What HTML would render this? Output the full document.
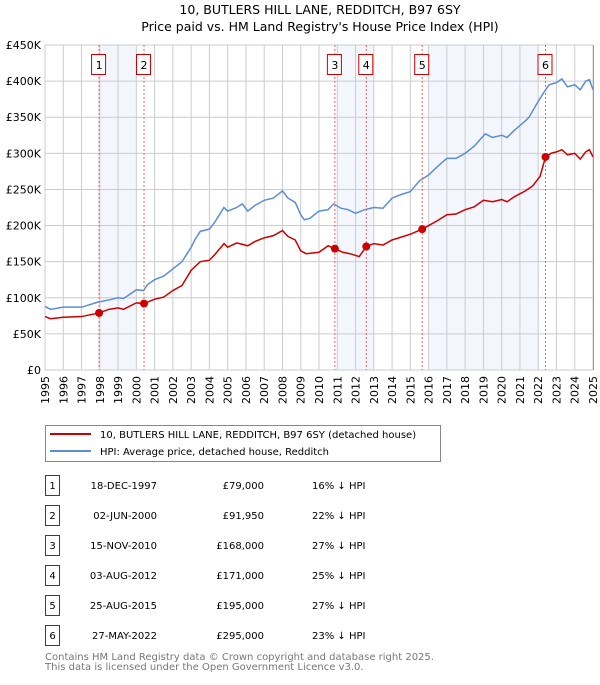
<!DOCTYPE html>
<html><head><meta charset="utf-8"><style>
body{margin:0;background:#fff;}
svg text{font-family:"DejaVu Sans","Liberation Sans",sans-serif;}
</style></head><body>
<svg id="chart" width="600" height="680" xmlns="http://www.w3.org/2000/svg">
<text x="320" y="14" text-anchor="middle" font-size="12.5">10, BUTLERS HILL LANE, REDDITCH, B97 6SY</text>
<text x="320" y="31" text-anchor="middle" font-size="12.5">Price paid vs. HM Land Registry's House Price Index (HPI)</text>
<g id="bands"></g><g id="grid"></g><g id="axes"></g><g id="series"></g><g id="marks"></g>
<line x1="593.5" y1="45" x2="593.5" y2="370" stroke="#999" stroke-width="1"/>
<g>
<rect x="45.5" y="425.5" width="395" height="36" fill="#fff" stroke="#888"/>
<line x1="50" y1="434" x2="91" y2="434" stroke="#cc0000" stroke-width="2"/>
<text x="100" y="438" font-size="10">10, BUTLERS HILL LANE, REDDITCH, B97 6SY (detached house)</text>
<line x1="50" y1="451" x2="91" y2="451" stroke="#5b8ed6" stroke-width="2"/>
<text x="100" y="455" font-size="10">HPI: Average price, detached house, Redditch</text>
</g>
<g id="table"></g>
<text x="45" y="660" font-size="10" fill="#777">Contains HM Land Registry data © Crown copyright and database right 2025.</text>
<text x="45" y="670" font-size="10" fill="#777">This data is licensed under the Open Government Licence v3.0.</text>
</svg>
<script>
const yearTicks=[1995,1996,1997,1998,1999,2000,2001,2002,2003,2004,2005,2006,2007,2008,2009,2010,2011,2012,2013,2014,2015,2016,2017,2018,2019,2020,2021,2022,2023,2024,2025];
const priceTicks=[0,50,100,150,200,250,300,350,400,450];
const priceLabels=["£0","£50K","£100K","£150K","£200K","£250K","£300K","£350K","£400K","£450K"];
const hpiDates=[1995,1995.3,1996,1997,1997.9,1998.5,1999,1999.3,2000,2000.4,2000.6,2001,2001.5,2002,2002.5,2003,2003.2,2003.5,2004,2004.3,2004.8,2005,2005.5,2005.8,2006.1,2006.5,2007,2007.5,2008,2008.3,2008.7,2009,2009.2,2009.5,2010,2010.5,2010.8,2011.2,2011.6,2012,2012.5,2013,2013.5,2014,2014.5,2015,2015.5,2016,2016.5,2017,2017.5,2018,2018.5,2019.1,2019.5,2020,2020.3,2020.7,2021.3,2021.5,2022,2022.3,2022.6,2023,2023.3,2023.6,2024,2024.3,2024.6,2024.8,2025];
const hpiValues=[88,84,87,87,94,97,100,99,111,110,118,125,130,140,150,170,180,192,195,205,225,220,225,230,220,228,235,238,248,238,232,215,208,210,220,222,230,224,222,217,222,225,224,238,243,247,262,270,282,293,293,300,310,327,322,325,322,332,345,350,372,384,395,398,403,392,395,388,400,402,388];
const ppDates=[1995,1995.3,1996,1997,1997.96,1998.5,1999,1999.3,2000,2000.42,2001,2001.5,2002,2002.5,2003,2003.5,2004,2004.3,2004.8,2005,2005.5,2006.1,2006.5,2007,2007.5,2008,2008.3,2008.7,2009,2009.3,2010,2010.5,2010.87,2011.3,2011.7,2012.2,2012.59,2013,2013.5,2014,2014.5,2015,2015.65,2016,2016.5,2017,2017.5,2018,2018.5,2019,2019.5,2020,2020.3,2020.7,2021.3,2021.7,2022.1,2022.4,2022.7,2023,2023.3,2023.6,2024,2024.3,2024.6,2024.8,2025];
const ppValues=[74,71,73,74,79,84,86,84,93,92,98,101,110,117,138,150,152,160,175,170,176,172,178,183,186,193,185,180,165,161,163,172,168,163,161,157,171,175,173,180,184,188,195,200,207,215,216,222,226,235,233,236,233,240,248,255,268,295,300,302,305,298,300,292,302,305,295];
const saleDates=[1997.96,2000.42,2010.87,2012.59,2015.65,2022.4];
const salePrices=[79,91.95,168,171,195,295];
const saleLabels=["1","2","3","4","5","6"];
const saleDateText=["18-DEC-1997","02-JUN-2000","15-NOV-2010","03-AUG-2012","25-AUG-2015","27-MAY-2022"];
const salePriceText=["£79,000","£91,950","£168,000","£171,000","£195,000","£295,000"];
const saleHpiText=["16% ↓ HPI","22% ↓ HPI","27% ↓ HPI","25% ↓ HPI","27% ↓ HPI","23% ↓ HPI"];
const bandStarts=[1998,2011,2016];
const bandEnds=[2000,2013,2022];

const NS="http://www.w3.org/2000/svg";
const X0=45,X1=593,Y0=370,Y1=45;
const xs=d=>X0+(d-1995)/30*(X1-X0);
const ys=v=>Y0-v/450*(Y0-Y1);
function mk(p,t,a){const e=document.createElementNS(NS,t);for(const k in a)e.setAttribute(k,a[k]);p.appendChild(e);return e;}
const bands=document.getElementById('bands'),grid=document.getElementById('grid'),axes=document.getElementById('axes'),series=document.getElementById('series'),marks=document.getElementById('marks'),table=document.getElementById('table');
bandStarts.forEach((s,i)=>{const r=mk(bands,'rect',{x:xs(s),y:Y1,width:xs(bandEnds[i])-xs(s),height:Y0-Y1,fill:'#f3f6fd'});

});
yearTicks.forEach(y=>{const l=mk(grid,'line',{x1:xs(y),x2:xs(y),y1:Y1,y2:Y0,stroke:'#ccc','stroke-width':1});


const t=mk(axes,'text',{x:0,y:0,'font-size':11,'text-anchor':'end',transform:`translate(${xs(y)+4},${Y0+6}) rotate(-90)`});t.textContent=y;

});
priceTicks.forEach((v,i)=>{const l=mk(grid,'line',{x1:X0,x2:X1,y1:ys(v),y2:ys(v),stroke:'#ccc','stroke-width':1});


const t=mk(axes,'text',{x:X0-4,y:ys(v)+4,'font-size':11,'text-anchor':'end'});t.textContent=priceLabels[i];

});
const hp=mk(series,'polyline',{points:hpiDates.map((d,i)=>xs(d)+','+ys(hpiValues[i])).join(' '),fill:'none',stroke:'#5b8ed6','stroke-width':1.5});


const pp=mk(series,'polyline',{points:ppDates.map((d,i)=>xs(d)+','+ys(ppValues[i])).join(' '),fill:'none',stroke:'#cc0000','stroke-width':1.5});


saleDates.forEach((d,i)=>{const x=xs(d);
const l=mk(marks,'line',{x1:x,x2:x,y1:Y1,y2:Y0,stroke:'#f06060','stroke-width':1,'stroke-dasharray':'2,2'});


const c=mk(marks,'circle',{cx:x,cy:ys(salePrices[i]),r:4,fill:'#cc0000'});


const g=mk(marks,'g',{});


mk(g,'rect',{x:x-7.5,y:54.5,width:14,height:20,fill:'#fff',stroke:'#cc0000'});
const t=mk(g,'text',{x:x,y:69,'font-size':11,'text-anchor':'middle'});t.textContent=saleLabels[i];
const ry=475+i*30;
const row=mk(table,'g',{});


mk(row,'rect',{x:45.5,y:ry+0.5,width:14,height:20,fill:'#fff',stroke:'#cc0000'});
const a=mk(row,'text',{x:52.5,y:ry+14,'font-size':10,'text-anchor':'middle'});a.textContent=saleLabels[i];
const b=mk(row,'text',{x:157,y:ry+14,'font-size':10,'text-anchor':'end'});b.textContent=saleDateText[i];
const c2=mk(row,'text',{x:264,y:ry+14,'font-size':10,'text-anchor':'end'});c2.textContent=salePriceText[i];
const e=mk(row,'text',{x:312,y:ry+14,'font-size':10});e.textContent=saleHpiText[i];});
</script>
</body></html>
